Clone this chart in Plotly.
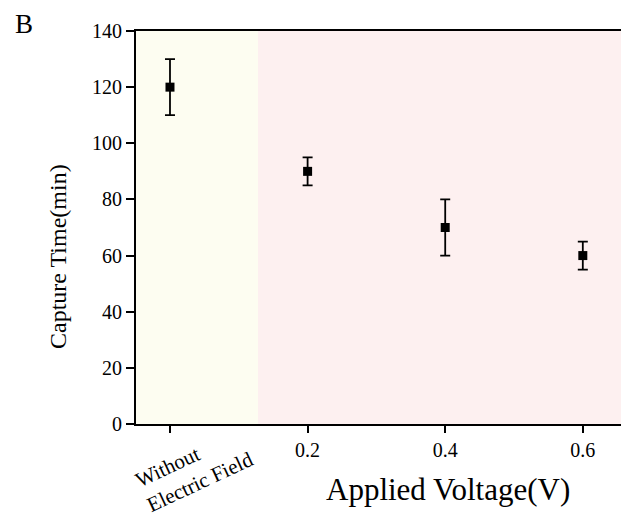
import plotly.graph_objects as go

# Data
conditions = ["Without Electric Field", "0.2", "0.4", "0.6"]
voltage = [0.0, 0.2, 0.4, 0.6]
capture_time = [120, 90, 70, 60]
capture_err = [10, 5, 10, 5]
tick_labels = ["Without<br>Electric Field", "0.2", "0.4", "0.6"]
y_ticks = [0, 20, 40, 60, 80, 100, 120, 140]

FONT = "Liberation Serif"
W, H = 621, 517
PL, PR, PT, PB = 136, 621, 31, 424  # plot area in page pixels
L, T, B = PL, PT, H - PB


def px(x):
    return (x - PL) / (PR - PL)


def py(y):
    return (PB - y) / (PB - PT)


fig = go.Figure()

fig.add_trace(go.Scatter(
    x=voltage, y=capture_time, mode="markers",
    marker=dict(symbol="square", size=9, color="black"),
    error_y=dict(type="data", array=capture_err, visible=True,
                 color="black", thickness=1.8, width=5),
    showlegend=False,
))

x_lo, x_hi = -0.0494, 0.6555
split = 0.128

# background regions
fig.add_shape(type="rect", xref="x", yref="paper", x0=x_lo, x1=split, y0=0, y1=1,
              fillcolor="#fdfdf1", line_width=0, layer="below")
fig.add_shape(type="rect", xref="x", yref="paper", x0=split, x1=x_hi, y0=0, y1=1,
              fillcolor="#fdf0f0", line_width=0, layer="below")

fig.update_layout(
    width=W, height=H,
    margin=dict(l=L, r=0, t=T, b=B, pad=0),
    paper_bgcolor="white", plot_bgcolor="white",
    font=dict(family=FONT, color="black"),
    xaxis=dict(
        range=[x_lo, x_hi],
        tickvals=voltage,
        ticktext=["" if "<br>" in t else t for t in tick_labels],
        ticks="outside", ticklen=7, tickwidth=1.5, tickcolor="black",
        showline=True, linecolor="black", linewidth=1.8, mirror=True,
        showgrid=False, zeroline=False,
        tickfont=dict(family=FONT, size=20, color="black"),
    ),
    yaxis=dict(
        range=[0, 140],
        tickvals=y_ticks,
        ticks="outside", ticklen=8, tickwidth=1.5, tickcolor="black",
        showline=True, linecolor="black", linewidth=1.8,
        showgrid=False, zeroline=False,
        tickfont=dict(family=FONT, size=20, color="black"),
    ),
)

# rotated first tick label
for xv, lab in zip(voltage, tick_labels):
    if "<br>" in lab:
        fig.add_annotation(x=px(194), xref="paper", y=py(469), yref="paper",
                           text=lab, textangle=-25, showarrow=False,
                           xanchor="center", yanchor="middle",
                           align="left",
                           font=dict(family=FONT, size=21, color="black"))

# axis titles
fig.add_annotation(x=px(448), xref="paper", y=py(489), yref="paper",
                   text="Applied Voltage(V)", showarrow=False,
                   xanchor="center", yanchor="middle",
                   font=dict(family=FONT, size=31, color="black"))
fig.add_annotation(x=px(58), xref="paper", y=py(257), yref="paper",
                   text="Capture Time(min)", showarrow=False,
                   textangle=-90, xanchor="center", yanchor="middle",
                   font=dict(family=FONT, size=24, color="black"))
# panel label
fig.add_annotation(x=px(24), xref="paper", y=py(24), yref="paper",
                   text="B", showarrow=False,
                   xanchor="center", yanchor="middle",
                   font=dict(family=FONT, size=27, color="black"))

fig.write_html(
    "out.html",
    config={"displayModeBar": False},
    post_script="document.body.style.margin='0';document.body.style.overflow='hidden';",
)
